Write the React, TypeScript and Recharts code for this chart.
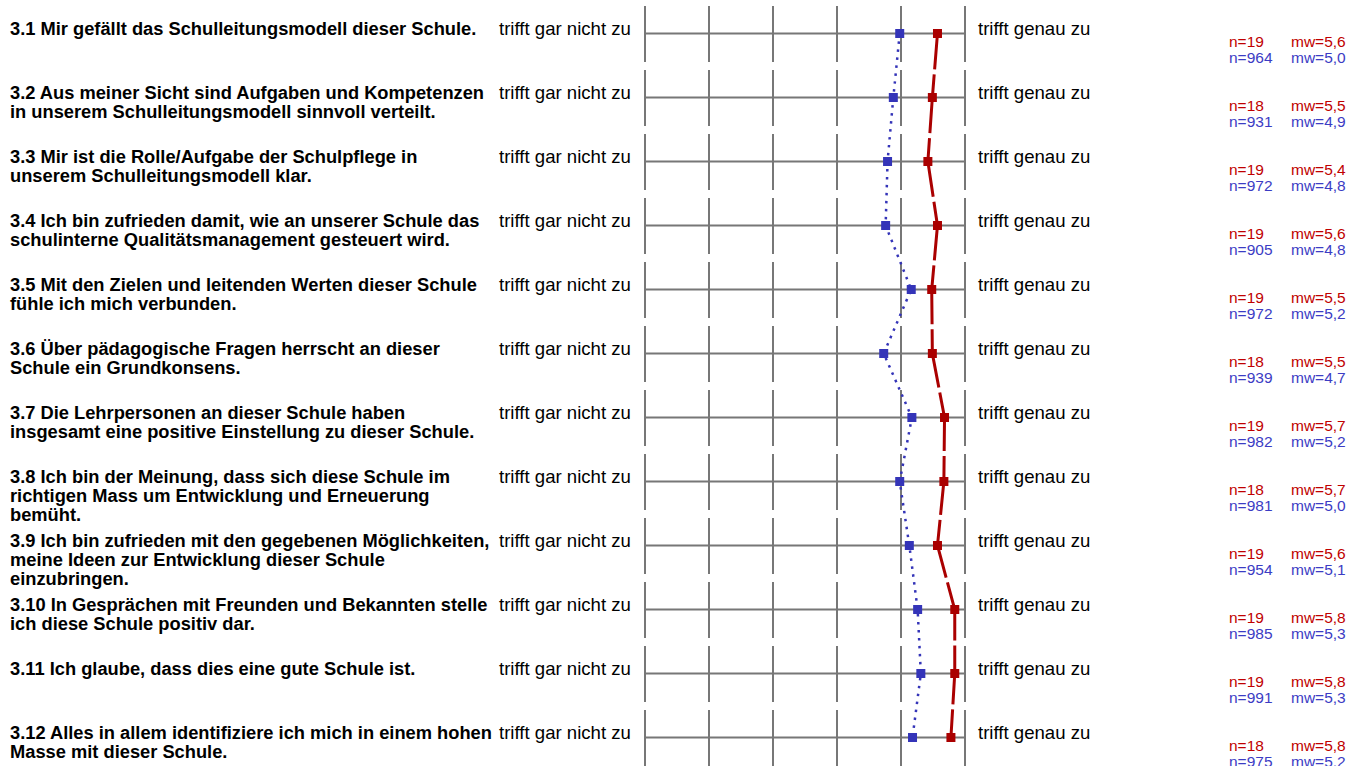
import { CartesianGrid, Line, LineChart, XAxis, YAxis } from 'recharts'

// rows of the questionnaire block
const ids = ['3.1', '3.2', '3.3', '3.4', '3.5', '3.6', '3.7', '3.8', '3.9', '3.10', '3.11', '3.12']

const questions: string[][] = [
  ['3.1 Mir gefällt das Schulleitungsmodell dieser Schule.'],
  ['3.2 Aus meiner Sicht sind Aufgaben und Kompetenzen', 'in unserem Schulleitungsmodell sinnvoll verteilt.'],
  ['3.3 Mir ist die Rolle/Aufgabe der Schulpflege in', 'unserem Schulleitungsmodell klar.'],
  ['3.4 Ich bin zufrieden damit, wie an unserer Schule das', 'schulinterne Qualitätsmanagement gesteuert wird.'],
  ['3.5 Mit den Zielen und leitenden Werten dieser Schule', 'fühle ich mich verbunden.'],
  ['3.6 Über pädagogische Fragen herrscht an dieser', 'Schule ein Grundkonsens.'],
  ['3.7 Die Lehrpersonen an dieser Schule haben', 'insgesamt eine positive Einstellung zu dieser Schule.'],
  ['3.8 Ich bin der Meinung, dass sich diese Schule im', 'richtigen Mass um Entwicklung und Erneuerung', 'bemüht.'],
  ['3.9 Ich bin zufrieden mit den gegebenen Möglichkeiten,', 'meine Ideen zur Entwicklung dieser Schule', 'einzubringen.'],
  ['3.10 In Gesprächen mit Freunden und Bekannten stelle', 'ich diese Schule positiv dar.'],
  ['3.11 Ich glaube, dass dies eine gute Schule ist.'],
  ['3.12 Alles in allem identifiziere ich mich in einem hohen', 'Masse mit dieser Schule.'],
]

const LOW_LABEL = 'trifft gar nicht zu'
const HIGH_LABEL = 'trifft genau zu'

// this school (red) vs. comparison (blue)
const schoolMean = [5.57, 5.49, 5.42, 5.57, 5.48, 5.49, 5.68, 5.67, 5.57, 5.84, 5.84, 5.78]
const schoolN = [19, 18, 19, 19, 19, 18, 19, 18, 19, 19, 19, 18]
const refMean = [4.98, 4.88, 4.79, 4.76, 5.16, 4.73, 5.17, 4.98, 5.13, 5.26, 5.31, 5.18]
const refN = [964, 931, 972, 905, 972, 939, 982, 981, 954, 985, 991, 975]

const scaleTicks = [1, 2, 3, 4, 5, 6]

const RED = '#aa0000'
const BLUE = '#3434b8'
const RED_TEXT = '#c00000'
const BLUE_TEXT = '#3c3cc4'
const FONT = '"Liberation Sans", Arial, sans-serif'

const data = ids.map((id, i) => ({ id, school: schoolMean[i], ref: refMean[i] }))

const fmt = (v: number) => v.toFixed(1).replace('.', ',')

function RowTick(props: any) {
  const { y, payload } = props
  const i = payload.index ?? ids.indexOf(payload.value)
  const base = y + 1
  return (
    <g fontFamily={FONT}>
      <text x={10} y={base} fontSize={18.3} fontWeight="bold" fill="#000">
        {questions[i].map((line, k) => (
          <tspan key={k} x={10} y={base + k * 19}>
            {line}
          </tspan>
        ))}
      </text>
      <text x={499} y={base} fontSize={18.6} fill="#000">{LOW_LABEL}</text>
      <text x={978} y={base} fontSize={18.6} fill="#000">{HIGH_LABEL}</text>
      <text x={1229} y={y + 13.5} fontSize={15.5} fill={RED_TEXT}>n={schoolN[i]}</text>
      <text x={1291} y={y + 13.5} fontSize={15.5} fill={RED_TEXT}>mw={fmt(schoolMean[i])}</text>
      <text x={1229} y={y + 29} fontSize={15.5} fill={BLUE_TEXT}>n={refN[i]}</text>
      <text x={1291} y={y + 29} fontSize={15.5} fill={BLUE_TEXT}>mw={fmt(refMean[i])}</text>
    </g>
  )
}

const squareDot = (color: string) => (p: any) => (
  <rect key={p.index} x={p.cx - 4.5} y={p.cy - 4.5} width={9} height={9} fill={color} />
)

export default function App() {
  return (
    <div style={{ position: 'absolute', left: 0, top: 0, width: 1348, height: 766, overflow: 'hidden', background: '#fff' }}>
      <LineChart
        width={1348}
        height={772}
        data={data}
        layout="vertical"
        margin={{ top: 1.5, right: 383, bottom: 2.5, left: 0 }}
      >
        <CartesianGrid horizontal={false} syncWithTicks stroke="#777" strokeWidth={2} strokeDasharray="0 4.5 56 3.5" />
        <CartesianGrid vertical={false} syncWithTicks stroke="#777" strokeWidth={2} />
        <XAxis type="number" domain={[1, 6]} ticks={scaleTicks} hide />
        <YAxis
          type="category"
          dataKey="id"
          width={645}
          axisLine={false}
          tickLine={false}
          tick={<RowTick />}
          interval={0}
          padding={{ top: 32, bottom: 32 }}
        />
        <Line
          type="linear"
          dataKey="ref"
          stroke={BLUE}
          strokeWidth={2.5}
          strokeDasharray="2.5 5.5"
          dot={squareDot(BLUE)}
          activeDot={false}
          isAnimationActive={false}
        />
        <Line
          type="linear"
          dataKey="school"
          stroke={RED}
          strokeWidth={3}
          strokeDasharray="36 5 23 0"
          dot={squareDot(RED)}
          activeDot={false}
          isAnimationActive={false}
        />
      </LineChart>
    </div>
  )
}
